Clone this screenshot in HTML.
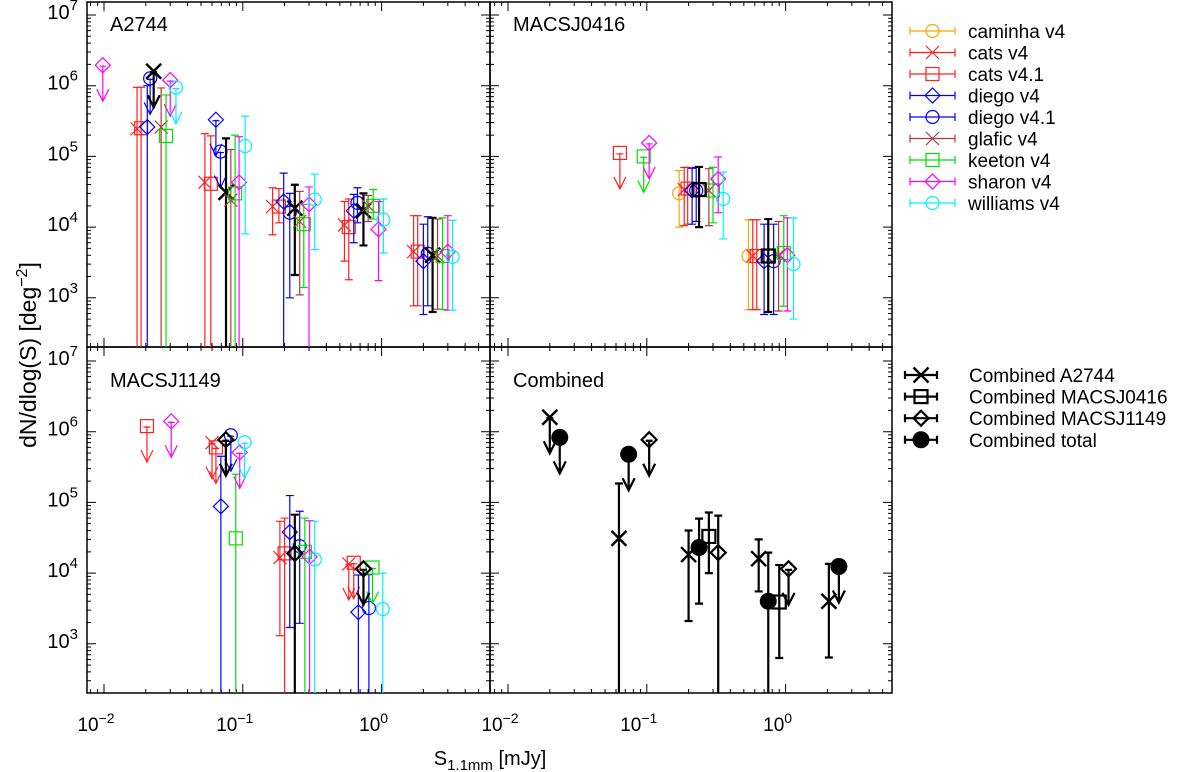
<!DOCTYPE html>
<html><head><meta charset="utf-8"><style>
html,body{margin:0;padding:0;background:#fff}
svg{display:block;font-family:"Liberation Sans",sans-serif}
</style></head><body>
<svg id="chart" width="1200" height="772" viewBox="0 0 1200 772" xmlns="http://www.w3.org/2000/svg">
<g id="frames"></g>
<g id="marks"></g>
<g id="legend"></g>
<text x="490" y="765" text-anchor="middle" font-size="20">S<tspan font-size="15" dy="5">1.1mm</tspan><tspan dy="-5"> [mJy]</tspan></text>
<text transform="translate(36,355) rotate(-90)" text-anchor="middle" font-size="23">dN/dlog(S) [deg<tspan font-size="16" dy="-9">−2</tspan><tspan dy="9">]</tspan></text>
</svg>
<script>
// series keys
const seriesKeys = ["caminha","cats4","cats41","diego4","diego41","glafic","keeton","sharon","williams","cA2744","c0416","c1149","ctotal"];
const seriesLabels = ["caminha v4","cats v4","cats v4.1","diego v4","diego v4.1","glafic v4","keeton v4","sharon v4","williams v4","Combined A2744","Combined MACSJ0416","Combined MACSJ1149","Combined total"];
const panelTitles = ["A2744","MACSJ0416","MACSJ1149","Combined"];
const xTickLabels = ["−2","−1","0"];
const yTickLabels = ["7","6","5","4","3"];
// rows: [series, S (mJy), N, lowerErr (0 = off axis), upperErr, upperLimit(1)]
const dataA2744 = [
 ["sharon",0.0098,1.95e6,0,0,1],
 ["cats4",0.0173,2.45e5,0,9.5e5,0],["cats41",0.0185,2.5e5,0,9.5e5,0],["diego4",0.0205,2.6e5,0,1.0e6,0],
 ["diego41",0.0215,1.27e6,0,0,1],["cA2744",0.0228,1.6e6,0,0,1],["glafic",0.0258,2.6e5,0,9.3e5,0],
 ["keeton",0.028,1.95e5,0,7.4e5,0],["sharon",0.030,1.2e6,0,0,1],["williams",0.033,9.4e5,0,0,1],
 ["cats4",0.0533,4.3e4,0,2.1e5,0],["cats41",0.0588,4.1e4,0,1.95e5,0],["diego4",0.064,3.3e5,0,0,1],
 ["diego41",0.069,1.17e5,0,0,1],["cA2744",0.0757,3.1e4,0,1.8e5,0],["glafic",0.082,2.4e4,0,1.25e5,0],
 ["keeton",0.088,3.0e4,0,2.0e5,0],["sharon",0.094,4.3e4,0,1.9e5,0],["williams",0.104,1.4e5,8e3,3.7e5,0],
 ["cats4",0.164,1.95e4,7.8e3,3.6e4,0],["cats41",0.182,1.95e4,1.15e4,3.5e4,0],["diego4",0.197,2.3e4,0,5.8e4,0],
 ["diego41",0.218,1.6e4,1.0e3,3.0e4,0],["cA2744",0.237,1.85e4,2.1e3,3.97e4,0],["glafic",0.257,1.2e4,1.1e3,3.2e4,0],
 ["keeton",0.275,1.1e4,1.4e3,2.1e4,0],["sharon",0.30,2.1e4,0,3.7e4,0],["williams",0.33,2.45e4,4.8e3,5.6e4,0],
 ["cats4",0.54,1.07e4,3.3e3,2.3e4,0],["cats41",0.58,1.0e4,1.8e3,2.5e4,0],["diego4",0.63,1.7e4,6e3,2.9e4,0],
 ["diego41",0.67,2.2e4,1.15e4,3.6e4,0],["cA2744",0.74,1.7e4,5.5e3,3.0e4,0],["glafic",0.80,2.0e4,1.2e4,2.8e4,0],
 ["keeton",0.87,2.0e4,1.3e4,3.4e4,0],["sharon",0.95,9.3e3,1.75e3,2.3e4,0],["williams",1.03,1.27e4,4.3e3,2.5e4,0],
 ["cats4",1.7,4.5e3,7.7e2,1.45e4,0],["cats41",1.82,4.5e3,7.7e2,1.45e4,0],["diego4",2.0,3.3e3,5.8e2,1.1e4,0],
 ["diego41",2.15,4.2e3,7.7e2,1.4e4,0],["cA2744",2.33,4.0e3,6.3e2,1.35e4,0],["glafic",2.53,3.9e3,6.9e2,1.3e4,0],
 ["keeton",2.75,3.9e3,6.8e2,1.35e4,0],["sharon",3.0,4.5e3,6.7e2,1.45e4,0],["williams",3.25,3.8e3,6.7e2,1.25e4,0]
];
const data0416 = [
 ["cats41",0.064,1.12e5,0,0,1],["keeton",0.095,1.0e5,0,0,1],["sharon",0.104,1.55e5,0,0,1],
 ["caminha",0.171,3.0e4,1.0e4,6.3e4,0],["cats4",0.186,3.4e4,1.05e4,7.0e4,0],["cats41",0.197,3.5e4,1.1e4,7.0e4,0],
 ["diego4",0.212,3.3e4,1.1e4,6.8e4,0],["diego41",0.227,3.3e4,1.2e4,7.0e4,0],["glafic",0.28,3.3e4,1.05e4,6.7e4,0],
 ["keeton",0.30,3.3e4,1.15e4,7.0e4,0],["sharon",0.327,4.8e4,1.6e4,9.8e4,0],["williams",0.355,2.5e4,6.8e3,6.0e4,0],
 ["c0416",0.238,3.4e4,1.0e4,7.1e4,0],
 ["caminha",0.54,3.9e3,6.8e2,1.27e4,0],["cats4",0.58,3.9e3,6.8e2,1.27e4,0],["cats41",0.62,3.9e3,6.8e2,1.27e4,0],
 ["diego4",0.70,3.3e3,5.8e2,1.1e4,0],["diego41",0.82,3.3e3,5.8e2,1.1e4,0],["glafic",0.89,4.0e3,6.5e2,1.2e4,0],
 ["keeton",0.97,4.3e3,7.6e2,1.45e4,0],["sharon",1.03,4.0e3,6.5e2,1.35e4,0],["williams",1.14,3.0e3,5.0e2,1.35e4,0],
 ["c0416",0.75,3.9e3,6.3e2,1.3e4,0]
];
const data1149 = [
 ["cats41",0.0204,1.2e6,0,0,1],["sharon",0.0305,1.4e6,0,0,1],
 ["cats4",0.060,7.0e5,0,0,1],["cats41",0.064,6.0e5,0,0,1],["diego4",0.0695,8.8e4,0,4.5e5,0],
 ["diego41",0.082,8.9e5,0,0,1],["keeton",0.089,3.1e4,0,2.5e5,0],["sharon",0.095,5.1e5,0,0,1],
 ["williams",0.103,7.1e5,0,0,1],["c1149",0.0755,7.7e5,0,0,1],
 ["cats4",0.185,1.66e4,1.3e3,5.4e4,0],["cats41",0.20,1.9e4,0,6.0e4,0],["diego4",0.218,3.8e4,1.7e3,1.25e5,0],
 ["diego41",0.257,2.4e4,1.95e3,7.5e4,0],["keeton",0.28,2.0e4,0,6.0e4,0],["sharon",0.303,1.7e4,0,5.5e4,0],
 ["williams",0.33,1.56e4,0,5.4e4,0],["c1149",0.237,1.9e4,0,6.7e4,0],
 ["cats4",0.58,1.35e4,0,0,1],["cats41",0.63,1.4e4,0,0,1],["diego4",0.68,2.8e3,0,9.4e3,0],
 ["diego41",0.81,3.2e3,0,9.5e3,0],["keeton",0.86,1.2e4,0,0,1],["williams",1.02,3.1e3,0,1.0e4,0],
 ["c1149",0.74,1.15e4,0,0,1]
];
const dataCombined = [
 ["cA2744",0.020,1.6e6,0,0,1],["ctotal",0.0236,8.3e5,0,0,1],
 ["cA2744",0.063,3.1e4,0,1.85e5,0],["ctotal",0.074,4.8e5,0,0,1],["c1149",0.104,7.7e5,0,0,1],
 ["cA2744",0.20,1.83e4,2.1e3,4.0e4,0],["ctotal",0.238,2.3e4,3.7e3,5.9e4,0],["c0416",0.28,3.3e4,1.0e4,7.2e4,0],
 ["c1149",0.327,1.95e4,0,6.5e4,0],
 ["cA2744",0.64,1.6e4,5.5e3,3.0e4,0],["ctotal",0.75,4.0e3,0,1.95e4,0],["c0416",0.90,3.9e3,6.3e2,1.3e4,0],
 ["c1149",1.05,1.15e4,0,0,1],
 ["cA2744",2.05,4.0e3,6.4e2,1.35e4,0],["ctotal",2.42,1.24e4,0,0,1]
];

const NS="http://www.w3.org/2000/svg";
const style = {
 caminha:{c:"#ffa500",m:"circle"}, cats4:{c:"#ff2020",m:"x"}, cats41:{c:"#ff2020",m:"square"},
 diego4:{c:"#0000ff",m:"diamond"}, diego41:{c:"#0000ff",m:"circle"}, glafic:{c:"#b03a3a",m:"x"},
 keeton:{c:"#00e000",m:"square"}, sharon:{c:"#ff00ff",m:"diamond"}, williams:{c:"#00f0ff",m:"circle"},
 cA2744:{c:"#000",m:"x",b:1}, c0416:{c:"#000",m:"square",b:1}, c1149:{c:"#000",m:"diamond",b:1}, ctotal:{c:"#000",m:"dot",b:1}
};
const PL=[87,490], PR=[490,892], PT=[2,347], PB=[347,693];
const X0=[104,508], DEC_X=138.8, Y0=[15,361], DEC_Y=70.7;
function xS(col,S){return X0[col]+(Math.log10(S)+2)*DEC_X;}
function yN(row,N){return Y0[row]+(7-Math.log10(N))*DEC_Y;}
function el(tag,attrs,parent){const e=document.createElementNS(NS,tag);for(const k in attrs)e.setAttribute(k,attrs[k]);parent.appendChild(e);return e;}

const frames=document.getElementById('frames');
const marks=document.getElementById('marks');
const legend=document.getElementById('legend');

for(let r=0;r<2;r++)for(let c=0;c<2;c++){
 const p=r*2+c;
 const rect=el('rect',{x:PL[c],y:PT[r],width:PR[c]-PL[c],height:PB[r]-PT[r],fill:'none',stroke:'#000','stroke-width':1.5},frames);
 
 
 const t=el('text',{x:PL[c]+23,y:PT[r]+(r?40:29),'font-size':20},frames);
 t.textContent=panelTitles[p];
 
 
 let d='';
 for(let e=-3;e<=1;e++)for(let m=1;m<10;m++){
  const x=xS(c,m*Math.pow(10,e)); if(x<=PL[c]+0.5||x>=PR[c]-0.5)continue;
  const L=m===1?9:4;
  d+=`M${x},${PB[r]}v${-L}M${x},${PT[r]}v${L}`;
 }
 for(let e=2;e<=7;e++)for(let m=1;m<10;m++){
  const y=yN(r,m*Math.pow(10,e)); if(y<=PT[r]+0.5||y>=PB[r]-0.5)continue;
  const L=m===1?9:4;
  d+=`M${PL[c]},${y}h${L}M${PR[c]},${y}h${-L}`;
 }
 const tk=el('path',{d:d,stroke:'#000','stroke-width':1,fill:'none'},frames);
 
 
 if(c===0){
  yTickLabels.forEach((lab,i)=>{
   const y=yN(r,Math.pow(10,7-i));
   const tl=el('text',{x:78,y:y+4,'text-anchor':'end','font-size':20},frames);
   tl.innerHTML='10<tspan font-size="15" dy="-9">'+lab+'</tspan>';
   
   
  });
 }
 if(r===1){
  xTickLabels.forEach((lab,i)=>{
   const x=xS(c,Math.pow(10,i-2));
   const tl=el('text',{x:x-8,y:731,'text-anchor':'middle','font-size':19},frames);
   tl.innerHTML='10<tspan font-size="14" dy="-8">'+lab+'</tspan>';
   
   
  });
 }
}

function marker(g,type,x,y,col,bold){
 const sw=bold?2.2:1.2;
 if(type==='circle')el('circle',{cx:x,cy:y,r:6.5,fill:'none',stroke:col,'stroke-width':sw},g);
 else if(type==='dot')el('circle',{cx:x,cy:y,r:8,fill:col,stroke:col},g);
 else if(type==='square')el('rect',{x:x-6.5,y:y-6.5,width:13,height:13,fill:'none',stroke:col,'stroke-width':sw},g);
 else if(type==='diamond')el('path',{d:`M${x},${y-7.5}L${x+7.5},${y}L${x},${y+7.5}L${x-7.5},${y}Z`,fill:'none',stroke:col,'stroke-width':sw},g);
 else {const h=bold?7.5:6.5;el('path',{d:`M${x-h},${y-h}L${x+h},${y+h}M${x-h},${y+h}L${x+h},${y-h}`,stroke:col,'stroke-width':bold?2.4:1.2,fill:'none'},g);}
}

const panels=[dataA2744,data0416,data1149,dataCombined];
panels.forEach((rows,p)=>{
 const r=Math.floor(p/2), c=p%2;
 rows.forEach(row=>{
  const [k,S,N,lo,hi,ul]=row; const st=style[k];
  const g=el('g',{},marks);
  
  
  const x=xS(c,S), y=yN(r,N), sw=st.b?2.2:1.2;
  if(ul){
   const L=36;
   el('path',{d:`M${x},${y}V${y+L}M${x-6},${y+L-12}L${x},${y+L}L${x+6},${y+L-12}M${x-3.5},${y+1}h7`,stroke:st.c,'stroke-width':sw,fill:'none'},g);
  } else {
   const yt=yN(r,hi), yb=lo>0?yN(r,lo):PB[r];
   let d=`M${x},${yt}V${yb}M${x-4},${yt}h8`;
   if(lo>0)d+=`M${x-4},${yb}h8`;
   el('path',{d:d,stroke:st.c,'stroke-width':sw,fill:'none'},g);
  }
  marker(g,st.m,x,y,st.c,st.b);
 });
});

seriesKeys.forEach((k,i)=>{
 const st=style[k]; const top=i<9;
 const y=top?31+i*21.5:375+(i-9)*21.6;
 const x1=top?910:905, x2=top?955:937, xm=(x1+x2)/2, xt=top?968:969;
 const g=el('g',{},legend);
 
 
 const sw=st.b?2.2:1.2;
 el('path',{d:`M${x1},${y}H${x2}M${x1},${y-4}v8M${x2},${y-4}v8`,stroke:st.c,'stroke-width':sw,fill:'none'},g);
 marker(g,st.m,xm,y,st.c,st.b);
 const t=el('text',{x:xt,y:y+7,'font-size':19},g);
 t.textContent=seriesLabels[i];
});
</script>
</body></html>
